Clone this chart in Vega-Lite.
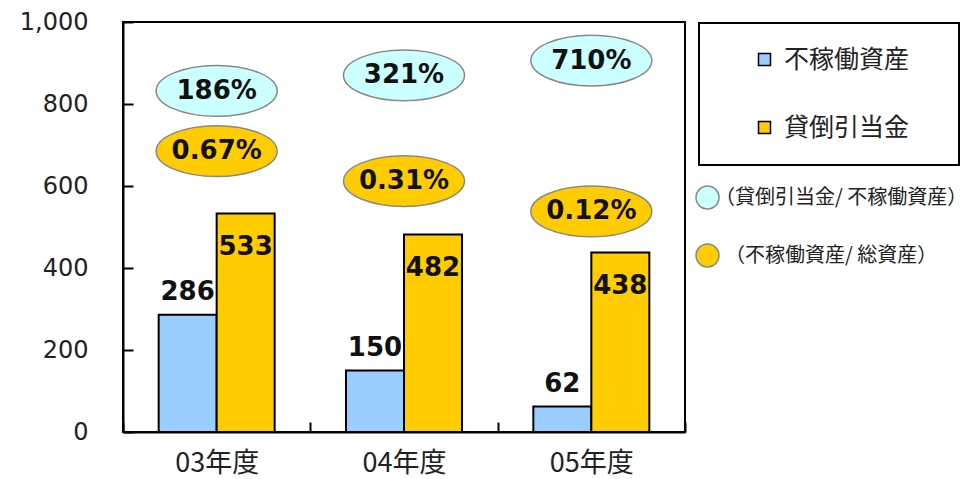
{
  "$schema": "https://vega.github.io/schema/vega-lite/v6.json",
  "width": 562,
  "height": 410,
  "autosize": "none",
  "padding": {"left": 123, "top": 22, "right": 282, "bottom": 47},
  "background": "white",
  "config": {
    "view": {"stroke": "black", "strokeWidth": 2},
    "axis": {"grid": false, "domainColor": "black", "domainWidth": 2, "tickColor": "black", "tickWidth": 2, "labelColor": "#222", "title": null}
  },
  "datasets": {
    "bars": [
      {"year": "03年度", "series": "不稼働資産", "value": 286},
      {"year": "03年度", "series": "貸倒引当金", "value": 533},
      {"year": "04年度", "series": "不稼働資産", "value": 150},
      {"year": "04年度", "series": "貸倒引当金", "value": 482},
      {"year": "05年度", "series": "不稼働資産", "value": 62},
      {"year": "05年度", "series": "貸倒引当金", "value": 438}
    ],
    "ratios": [
      {"year": "03年度", "kind": "（貸倒引当金/ 不稼働資産）", "pct": "186%", "at": 832},
      {"year": "03年度", "kind": "（不稼働資産/ 総資産）", "pct": "0.67%", "at": 685},
      {"year": "04年度", "kind": "（貸倒引当金/ 不稼働資産）", "pct": "321%", "at": 870},
      {"year": "04年度", "kind": "（不稼働資産/ 総資産）", "pct": "0.31%", "at": 612},
      {"year": "05年度", "kind": "（貸倒引当金/ 不稼働資産）", "pct": "710%", "at": 906},
      {"year": "05年度", "kind": "（不稼働資産/ 総資産）", "pct": "0.12%", "at": 538}
    ]
  },
  "layer": [
    {
      "data": {"name": "bars"},
      "mark": {"type": "bar", "stroke": "black", "strokeWidth": 2},
      "encoding": {
        "x": {"field": "year", "type": "nominal", "sort": null,
          "scale": {"paddingInner": 0, "paddingOuter": 0},
          "axis": {"labelAngle": 0, "labelFont": "Noto Sans CJK JP", "labelFontSize": 27, "labelPadding": 28, "ticks": true, "tickBand": "extent", "tickSize": -10}},
        "xOffset": {"field": "series", "type": "nominal", "scale": {"domain": ["不稼働資産", "貸倒引当金"], "paddingInner": 0, "paddingOuter": 0.615}},
        "y": {"field": "value", "type": "quantitative",
          "scale": {"domain": [0, 1000], "nice": false},
          "axis": {"values": [0, 200, 400, 600, 800, 1000], "format": ",d", "labelFont": "DejaVu Sans", "labelFontSize": 24, "labelPadding": 45, "tickSize": -10}},
        "fill": {"field": "series", "type": "nominal",
          "scale": {"domain": ["不稼働資産", "貸倒引当金"], "range": ["#99CCFF", "#FFCC00"]},
          "legend": {"title": null, "orient": "none", "legendX": 576, "legendY": 1,
            "strokeColor": "black", "padding": 24, "rowPadding": 42,
            "symbolType": "square", "symbolSize": 144, "symbolStrokeColor": "black", "symbolStrokeWidth": 1.5,
            "symbolOffset": 29, "labelOffset": 7,
            "labelFont": "Noto Sans CJK JP", "labelFontSize": 25, "labelColor": "#222", "labelLimit": 0,
            "labelExpr": "datum.label + '\u3000\u200b'",
            "encode": {"legend": {"update": {"strokeWidth": {"value": 2}}}}}}
      }
    },
    {
      "data": {"name": "bars"},
      "transform": [{"filter": "datum.series == '不稼働資産'"}],
      "mark": {"type": "text", "baseline": "alphabetic", "dy": -15, "font": "DejaVu Sans", "fontWeight": "bold", "fontSize": 26, "color": "#111"},
      "encoding": {
        "x": {"field": "year", "type": "nominal", "sort": null},
        "xOffset": {"field": "series", "type": "nominal"},
        "y": {"field": "value", "type": "quantitative"},
        "text": {"field": "value", "type": "quantitative"}
      }
    },
    {
      "data": {"name": "bars"},
      "transform": [{"filter": "datum.series == '貸倒引当金'"}],
      "mark": {"type": "text", "baseline": "alphabetic", "dy": 42, "font": "DejaVu Sans", "fontWeight": "bold", "fontSize": 26, "color": "#111"},
      "encoding": {
        "x": {"field": "year", "type": "nominal", "sort": null},
        "xOffset": {"field": "series", "type": "nominal"},
        "y": {"field": "value", "type": "quantitative"},
        "text": {"field": "value", "type": "quantitative"}
      }
    },
    {
      "data": {"name": "ratios"},
      "mark": {"type": "point", "filled": true, "opacity": 1, "stroke": "#888888", "strokeWidth": 1.5, "size": 14641,
        "shape": "M -1 0 C -1 -0.232 -0.552 -0.42 0 -0.42 C 0.552 -0.42 1 -0.232 1 0 C 1 0.232 0.552 0.42 0 0.42 C -0.552 0.42 -1 0.232 -1 0 Z"},
      "encoding": {
        "x": {"field": "year", "type": "nominal", "sort": null},
        "y": {"field": "at", "type": "quantitative"},
        "fill": {"field": "kind", "type": "nominal",
          "scale": {"domain": ["（貸倒引当金/ 不稼働資産）", "（不稼働資産/ 総資産）"], "range": ["#CCFFFF", "#FFCC00"]},
          "legend": {"title": null, "orient": "none", "legendX": 572, "legendY": 163, "padding": 0,
            "symbolType": "circle", "symbolSize": 529, "symbolStrokeColor": "#888888", "symbolStrokeWidth": 1.5,
            "rowPadding": 29, "labelOffset": -5, "labelFont": "Noto Sans CJK JP", "labelFontSize": 20, "labelColor": "#222", "labelLimit": 0,
            "labelExpr": "datum.label == '（不稼働資産/ 総資産）' ? '\u200b\u3000' + datum.label : datum.label"}}
      }
    },
    {
      "data": {"name": "ratios"},
      "mark": {"type": "text", "baseline": "middle", "font": "DejaVu Sans", "fontWeight": "bold", "fontSize": 26, "color": "#111"},
      "encoding": {
        "x": {"field": "year", "type": "nominal", "sort": null},
        "y": {"field": "at", "type": "quantitative"},
        "text": {"field": "pct", "type": "nominal"}
      }
    }
  ],
  "resolve": {"scale": {"fill": "independent"}, "legend": {"fill": "independent"}}
}
